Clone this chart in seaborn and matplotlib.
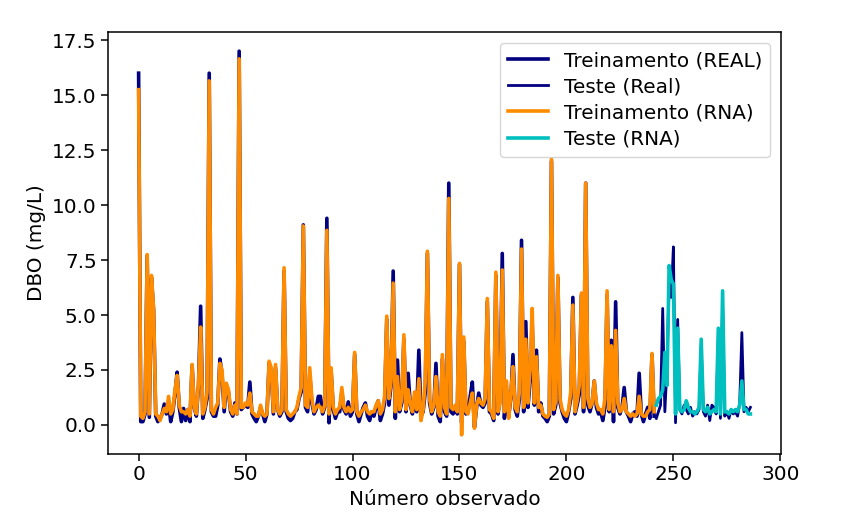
import numpy as np
import matplotlib
matplotlib.use("Agg")
import matplotlib.pyplot as plt
import seaborn as sns

# DBO observada (REAL) e prevista pela rede (RNA)
real_train = [
    16.0, 0.15, 0.15, 0.5, 7.7, 0.35, 6.7, 5.2, 0.4, 0.15,
    0.3, 0.5, 0.95, 0.5, 1.0, 0.15, 0.6, 1.4, 2.4, 0.8,
    0.15, 0.75, 0.2, 0.7, 0.15, 2.7, 0.8, 0.4, 1.8, 5.4,
    0.3, 0.7, 1.2, 16.0, 0.6, 0.4, 0.4, 0.9, 3.0, 2.3,
    0.6, 1.8, 1.5, 0.6, 0.4, 1.0, 0.5, 17.0, 0.7, 0.8,
    0.9, 0.8, 1.95, 0.5, 0.3, 0.15, 0.4, 0.8, 0.5, 0.15,
    0.5, 2.8, 2.5, 0.5, 2.6, 0.7, 0.4, 0.6, 7.0, 0.6,
    0.3, 0.2, 0.3, 0.6, 0.7, 1.2, 1.5, 9.1, 0.8, 0.6,
    2.3, 1.0, 0.5, 0.7, 1.3, 1.3, 0.5, 0.8, 9.4, 0.1,
    2.4, 0.7, 0.3, 0.6, 0.6, 1.5, 0.7, 0.5, 1.05, 0.4,
    0.6, 3.2, 0.5, 0.15, 0.5, 0.8, 1.0, 0.4, 0.2, 0.6,
    0.4, 0.8, 1.1, 0.2, 0.5, 1.0, 4.8, 0.9, 1.8, 7.0,
    0.3, 2.95, 0.6, 1.0, 3.9, 0.6, 2.35, 0.9, 0.5, 1.2,
    0.6, 3.4, 0.4, 0.6, 1.5, 7.8, 1.0, 0.5, 0.8, 2.8,
    0.4, 0.15, 3.0, 0.6, 0.4, 11.0, 0.6, 0.5, 0.8, 0.5,
    7.3, 0.1, 3.8, 0.5, 0.6, 1.3, 1.95, -0.1, 0.8, 1.45,
    0.9, 0.8, 1.0, 5.6, 0.6, 0.5, 0.2, 6.8, 0.5, 1.2,
    7.8, 0.3, 1.6, 0.4, 1.2, 3.2, 0.7, 0.4, 1.2, 8.4,
    0.6, 4.7, 0.8, 2.0, 4.6, 0.9, 3.4, 0.6, 1.0, 0.4,
    0.3, 0.15, 0.4, 12.0, 0.5, 0.9, 6.7, 1.0, 0.6, 0.3,
    0.15, 0.6, 1.2, 5.8, 0.5, 0.9, 1.4, 5.9, 0.6, 11.0,
    0.9, 0.6, 1.0, 2.0, 0.8, 0.5, 0.6, 0.2, 0.8, 5.9,
    0.6, 3.85, 0.15, 5.6, 0.8, 0.5, 0.8, 1.7, 0.6, 0.4,
    0.15, 0.5, 0.6, 0.4, 2.35, 0.5, 0.15, 0.5, 0.8, 0.3,
    3.2, 0.4,
]
pred_train = [
    15.25, 0.4, 0.3, 0.6, 7.75, 0.5, 6.8, 5.3, 0.5, 0.4,
    0.2, 0.5, 0.75, 0.6, 1.3, 0.5, 0.7, 1.6, 2.25, 0.9,
    0.6, 0.6, 0.5, 0.7, 0.4, 2.75, 0.8, 0.5, 1.9, 4.45,
    0.5, 0.8, 1.5, 15.65, 0.7, 0.5, 0.8, 1.0, 2.8, 2.5,
    0.8, 1.9, 1.6, 0.7, 0.5, 0.9, 0.5, 16.65, 0.8, 0.8,
    1.0, 0.9, 1.45, 0.6, 0.5, 0.4, 0.4, 0.9, 0.5, 0.4,
    0.5, 2.9, 2.6, 0.6, 2.75, 0.7, 0.5, 0.7, 7.15, 0.7,
    0.5, 0.4, 0.5, 0.6, 0.8, 1.3, 1.7, 9.05, 0.9, 0.8,
    2.6, 1.2, 0.6, 0.8, 0.9, 0.8, 0.6, 0.9, 8.85, 0.5,
    2.6, 0.8, 0.5, 0.7, 0.8, 1.7, 0.8, 0.6, 0.8, 0.6,
    0.7, 3.3, 0.6, 0.4, 0.6, 0.7, 0.9, 0.6, 0.5, 0.6,
    0.6, 0.9, 1.1, 0.5, 0.7, 1.3, 4.95, 1.2, 2.0, 6.45,
    0.6, 2.2, 0.7, 1.2, 4.1, 0.7, 1.6, 1.0, 0.6, 1.5,
    0.7, 2.1, 0.2, 0.7, 2.0, 7.9, 1.2, 0.6, 0.9, 2.2,
    0.6, 0.4, 3.2, 0.8, 0.5, 10.3, 0.8, 0.7, 0.9, 0.6,
    7.35, -0.45, 4.0, 0.6, 0.5, 1.0, 1.45, -0.15, 0.9, 1.2,
    1.0, 0.9, 1.2, 5.75, 0.7, 0.6, 0.3, 6.95, 0.6, 1.0,
    7.05, 0.6, 2.0, 0.3, 1.4, 2.65, 0.8, 0.6, 1.5, 8.0,
    0.8, 3.9, 1.0, 2.6, 5.3, 1.0, 3.1, 0.8, 0.9, 0.5,
    0.4, 0.35, 0.5, 12.1, 0.7, 1.1, 6.8, 1.2, 0.7, 0.5,
    0.4, 0.7, 1.5, 5.45, 0.6, 1.1, 1.8, 6.0, 0.8, 11.0,
    1.2, 0.8, 1.0, 2.0, 1.0, 0.7, 0.7, 0.5, 1.2, 6.1,
    0.7, 3.6, 0.6, 4.3, 1.0, 0.6, 0.7, 1.2, 0.6, 0.5,
    0.4, 0.5, 0.4, 0.5, 1.3, 0.5, 0.4, 0.4, 0.6, 0.7,
    3.25, 0.6,
]
real_test = [
    0.3, 0.6, 0.9, 5.3, 0.6, 2.6, 6.5, 5.8, 8.1, 0.1,
    4.8, 0.7, 0.5, 0.9, 0.7, 0.5, 0.8, 0.4, 0.6, 0.5,
    0.7, 3.6, 0.6, 0.4, 0.9, 0.2, 0.9, 0.8, 0.5, 4.0,
    0.3, 5.5, 0.4, 0.6, 0.3, 0.7, 0.5, 0.6, 0.4, 1.0,
    4.2, 0.6, 0.8, 0.6, 0.8,
]
pred_test = [
    0.9, 1.2, 1.3, 1.6, 3.3, 1.8, 7.25, 6.6, 6.4, 0.5,
    4.4, 0.7, 0.6, 0.7, 1.1, 0.8, 0.6, 0.6, 0.5, 0.6,
    0.8, 3.9, 0.7, 0.6, 0.8, 0.5, 0.6, 0.7, 0.6, 4.4,
    0.5, 6.1, 0.6, 0.6, 0.5, 0.7, 0.6, 0.7, 0.6, 0.9,
    2.0, 0.7, 0.7, 0.5, 0.5,
]

x_train = np.arange(len(real_train))
x_test = np.arange(len(real_train), len(real_train) + len(real_test))

plt.rcParams['font.size'] = 14.4
plt.rcParams['axes.linewidth'] = 1.1
plt.rcParams['xtick.major.size'] = 4.7
plt.rcParams['ytick.major.size'] = 4.7
plt.rcParams['xtick.major.width'] = 1.1
plt.rcParams['ytick.major.width'] = 1.1

fig = plt.figure(figsize=(8.67, 5.23), dpi=100)
ax = fig.add_axes([0.1246, 0.1319, 0.7762, 0.8069])

sns.lineplot(x=x_train, y=real_train, color='navy', lw=2.6, label='Treinamento (REAL)', ax=ax)
sns.lineplot(x=x_test, y=real_test, color='navy', lw=2.0, label='Teste (Real)', ax=ax)
sns.lineplot(x=x_train, y=pred_train, color='darkorange', lw=2.6, label='Treinamento (RNA)', ax=ax)
sns.lineplot(x=x_test, y=pred_test, color='c', lw=2.6, label='Teste (RNA)', ax=ax)

ax.set_xlabel('Número observado')
ax.set_ylabel('DBO (mg/L)')
ax.set_xticks([0, 50, 100, 150, 200, 250, 300])
ax.legend(loc='upper right', labelspacing=0.36, borderaxespad=0.55)

plt.savefig('out.png', dpi=100)
plt.close()
